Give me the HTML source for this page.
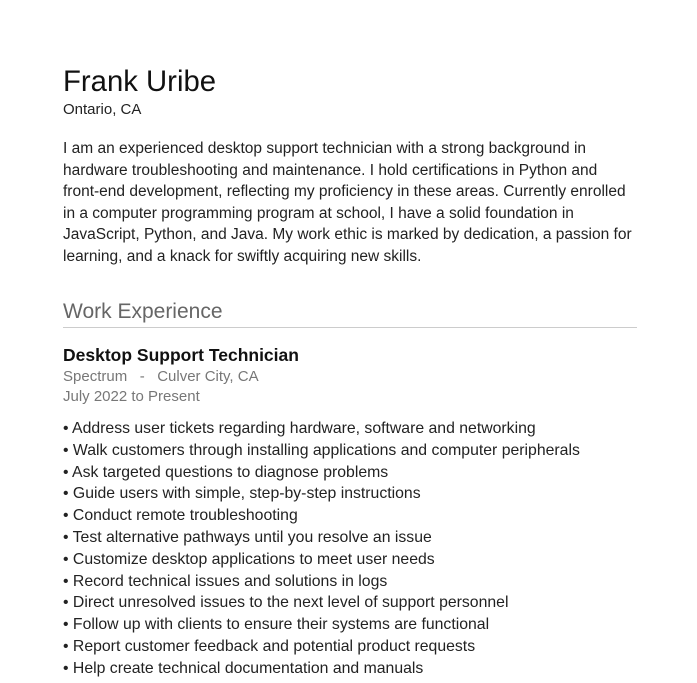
<!DOCTYPE html>
<html><head><meta charset="utf-8"><style>
body{margin:0;background:#fff;width:697px;height:683px;overflow:hidden;font-family:"Liberation Sans",sans-serif;color:#222}
.a{position:absolute;left:63px;white-space:nowrap}
</style></head><body>
<div class="a" style="top:65px;font-size:29.3px;color:#111">Frank Uribe</div>
<div class="a" style="top:101px;font-size:15px">Ontario, CA</div>
<div class="a" style="top:138px;font-size:15.5px;line-height:21.6px">I am an experienced desktop support technician with a strong background in<br>hardware troubleshooting and maintenance. I hold certifications in Python and<br>front-end development, reflecting my proficiency in these areas. Currently enrolled<br>in a computer programming program at school, I have a solid foundation in<br>JavaScript, Python, and Java. My work ethic is marked by dedication, a passion for<br>learning, and a knack for swiftly acquiring new skills.</div>
<div class="a" style="top:300px;font-size:21px;color:#666">Work Experience</div>
<div style="position:absolute;left:63px;top:327px;width:574px;height:1px;background:#ccc"></div>
<div class="a" style="top:345px;font-size:17.5px;font-weight:bold;color:#111">Desktop Support Technician</div>
<div class="a" style="top:368px;font-size:15px;color:#777">Spectrum &nbsp;&nbsp;- &nbsp;&nbsp;Culver City, CA</div>
<div class="a" style="top:388px;font-size:15px;color:#777">July 2022 to Present</div>
<div class="a" style="top:418px;font-size:15.8px;line-height:21.8px">• Address user tickets regarding hardware, software and networking<br>• Walk customers through installing applications and computer peripherals<br>• Ask targeted questions to diagnose problems<br>• Guide users with simple, step-by-step instructions<br>• Conduct remote troubleshooting<br>• Test alternative pathways until you resolve an issue<br>• Customize desktop applications to meet user needs<br>• Record technical issues and solutions in logs<br>• Direct unresolved issues to the next level of support personnel<br>• Follow up with clients to ensure their systems are functional<br>• Report customer feedback and potential product requests<br>• Help create technical documentation and manuals</div>
</body></html>
